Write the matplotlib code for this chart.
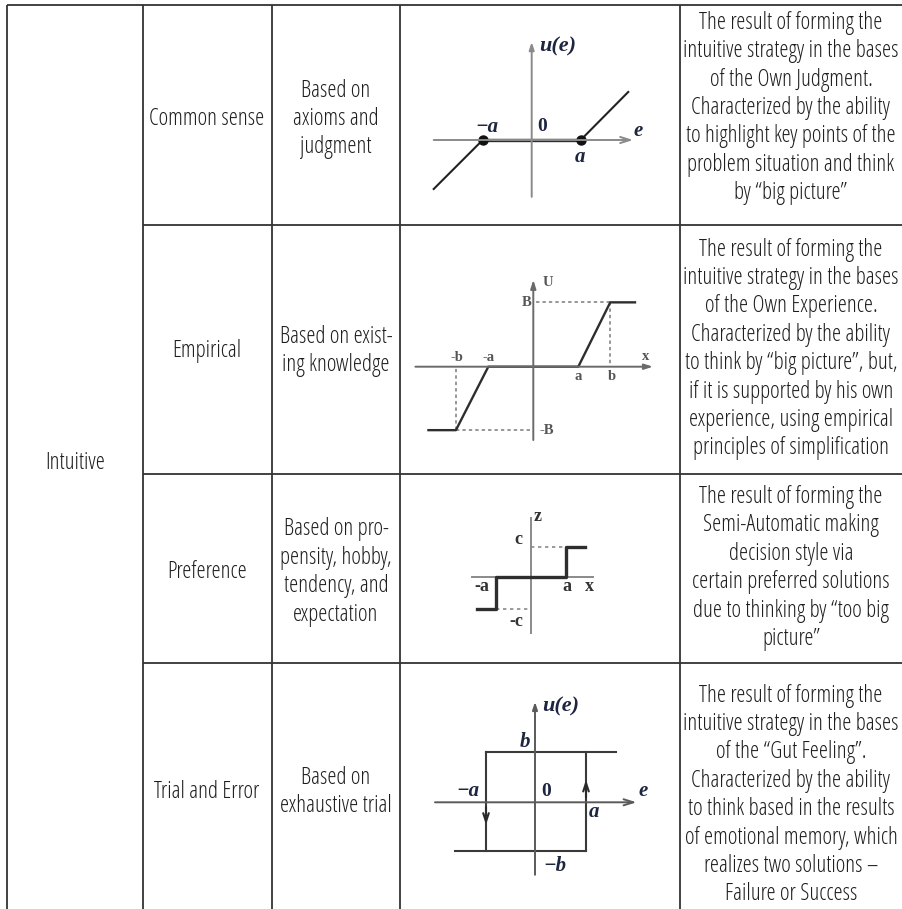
import matplotlib
matplotlib.use("Agg")
import matplotlib.pyplot as plt

W, H = 903, 909

# ---------------- table content ----------------
group_label = "Intuitive"
row_names = ["Common sense", "Empirical", "Preference", "Trial and Error"]
row_basis = ["Based on\naxioms and\njudgment",
             "Based on exist-\ning knowledge",
             "Based on pro-\npensity, hobby,\ntendency, and\nexpectation",
             "Based on\nexhaustive trial"]
descriptions = [
    "The result of forming the\nintuitive strategy in the bases\nof the Own Judgment.\n"
    "Characterized by the ability\nto highlight key points of the\nproblem situation and think\n"
    "by \u201cbig picture\u201d",
    "The result of forming the\nintuitive strategy in the bases\nof the Own Experience.\n"
    "Characterized by the ability\nto think by \u201cbig picture\u201d, but,\nif it is supported by his own\n"
    "experience, using empirical\nprinciples of simplification",
    "The result of forming the\nSemi-Automatic making\ndecision style via\ncertain preferred solutions\n"
    "due to thinking by \u201ctoo big\npicture\u201d",
    "The result of forming the\nintuitive strategy in the bases\nof the \u201cGut Feeling\u201d.\n"
    "Characterized by the ability\nto think based in the results\nof emotional memory, which\n"
    "realizes two solutions \u2013\nFailure or Success",
]

# ---------------- diagram data (units of a) ----------------
# 1: dead zone (Common sense)
d1_x = [-2.0, -1.0, 1.0, 1.97]
d1_y = [-1.0, 0.0, 0.0, 0.98]
d1_dots_x = [-1.0, 1.0]
d1_dots_y = [0.0, 0.0]
# 2: dead zone with saturation (Empirical)
d2_x = [-2.33, -1.72, -1.0, 1.0, 1.71, 2.26]
d2_y = [-1.41, -1.41, 0.0, 0.0, 1.43, 1.43]
d2_b, d2_nb, d2_B, d2_nB = 1.71, -1.72, 1.43, -1.41
# 3: relay with dead zone (Preference)
d3_x = [-1.54, -1.0, -1.0, 1.0, 1.0, 1.55]
d3_y = [-0.91, -0.91, 0.0, 0.0, 0.875, 0.875]
d3_c, d3_nc = 0.875, -0.91
# 4: relay with hysteresis (Trial and Error)
d4_top_x = [-0.98, 1.62]
d4_top_y = [1.01, 1.01]
d4_bot_x = [-1.6, 1.02]
d4_bot_y = [-0.97, -0.97]
d4_left_x = [-0.98, -0.98]
d4_left_y = [1.01, -0.97]
d4_right_x = [1.02, 1.02]
d4_right_y = [-0.97, 1.01]

# ---------------- layout ----------------
col_x = [7, 143, 272, 400, 680]
row_y = [5, 225, 474, 663]
name_cx, basis_cx, desc_cx, group_cx = 207, 336, 791, 75
mid_base = [125, 357, 578, 798]
desc_base = [114, 355, 574, 801]
group_base = 469
line_step = 28.4

TXT = dict(family="Open Sans", stretch="condensed", weight=300, fontsize=16.6, color="#1e1e1e")
LINE_C = "#333333"

fig = plt.figure(figsize=(W / 100, H / 100), dpi=100)
ax = fig.add_axes([0, 0, 1, 1])
ax.set_xlim(0, W)
ax.set_ylim(H, 0)
ax.axis("off")

# table rules
ax.plot([col_x[0], W], [row_y[0], row_y[0]], color=LINE_C, lw=1.3, solid_capstyle="butt")
for y in row_y[1:]:
    ax.plot([col_x[1], W], [y, y], color=LINE_C, lw=1.3, solid_capstyle="butt")
for x in col_x:
    ax.plot([x, x], [row_y[0], H], color=LINE_C, lw=1.3, solid_capstyle="butt")


def block(cx, base_center, text):
    lines = text.split("\n")
    n = len(lines)
    for i, ln in enumerate(lines):
        y = base_center + (i - (n - 1) / 2) * line_step
        ax.text(cx, y, ln, ha="center", va="baseline", **TXT)


block(group_cx, group_base, group_label)
for i in range(4):
    block(name_cx, mid_base[i], row_names[i])
    block(basis_cx, mid_base[i], row_basis[i])
    block(desc_cx, desc_base[i], descriptions[i])


def inset(ox, oy, s, xlim, ylim):
    l = ox + xlim[0] * s
    r = ox + xlim[1] * s
    t = oy - ylim[1] * s
    b = oy - ylim[0] * s
    a = fig.add_axes([l / W, (H - b) / H, (r - l) / W, (b - t) / H])
    a.set_xlim(*xlim)
    a.set_ylim(*ylim)
    a.axis("off")
    a.patch.set_alpha(0)
    return a


def arrow_axis(a, x0, y0, x1, y1, color, style):
    a.annotate("", xy=(x1, y1), xytext=(x0, y0),
               arrowprops=dict(arrowstyle=style, color=color, lw=1.4,
                               shrinkA=0, shrinkB=0), annotation_clip=False)


SERIF_BI = dict(family="Liberation Serif", weight="bold", style="italic", color="#1d2540")
SERIF_B = dict(family="Liberation Serif", weight="bold", color="#1d2540")

# ---- diagram 1 ----
a1 = inset(531.7, 140, 49, (-2.1, 2.2), (-1.25, 2.05))
arrow_axis(a1, -2.0, 0, 2.07, 0, "#8a8a8a", "->,head_length=0.7,head_width=0.22")
arrow_axis(a1, 0, -1.16, 0, 2.0, "#8a8a8a", "-|>,head_length=0.45,head_width=0.15")
a1.plot(d1_x, d1_y, color="#222222", lw=1.5, clip_on=False)
a1.plot(d1_x[1:3], d1_y[1:3], color="#2a2a2a", lw=2.4, clip_on=False)
a1.plot(d1_dots_x, d1_dots_y, "o", color="#111111", ms=6.5, clip_on=False)
a1.text(0.15, 1.9, "u(e)", ha="left", va="center", fontsize=16, **SERIF_BI)
a1.text(-0.91, 0.27, "\u2212a", ha="center", va="center", fontsize=15, **SERIF_BI)
a1.text(0.22, 0.27, "0", ha="center", va="center", fontsize=14, **SERIF_B)
a1.text(2.17, 0.18, "e", ha="center", va="center", fontsize=15, **SERIF_BI)
a1.text(0.985, -0.35, "a", ha="center", va="center", fontsize=15, **SERIF_BI)

# ---- diagram 2 ----
a2 = inset(533.3, 366.7, 45, (-2.7, 2.75), (-1.7, 2.0))
arrow_axis(a2, -2.62, 0, 2.66, 0, "#6a6a6a", "-|>,head_length=0.5,head_width=0.16")
arrow_axis(a2, 0, -1.63, 0, 1.93, "#6a6a6a", "-|>,head_length=0.5,head_width=0.16")
DASH = dict(color="#7a7a7a", lw=1.1, linestyle=(0, (2.2, 2.0)), clip_on=False)
a2.plot([d2_b, 0], [d2_B, d2_B], **DASH)
a2.plot([d2_b, d2_b], [d2_B, 0], **DASH)
a2.plot([d2_nb, 0], [d2_nB, d2_nB], **DASH)
a2.plot([d2_nb, d2_nb], [d2_nB, 0], **DASH)
a2.plot(d2_x, d2_y, color="#2e2e2e", lw=1.7, clip_on=False)
SM = dict(family="Liberation Serif", weight="bold", color="#555555", fontsize=10.5)
a2.text(0.2, 1.86, "U", ha="left", va="center", **SM)
a2.text(-0.05, d2_B, "B", ha="right", va="center", **SM)
a2.text(0.14, d2_nB, "-B", ha="left", va="center", **SM)
a2.text(2.5, 0.22, "x", ha="center", va="center", **SM)
a2.text(-1.7, 0.2, "-b", ha="center", va="center", **SM)
a2.text(-1.0, 0.2, "-a", ha="center", va="center", **SM)
a2.text(1.0, -0.22, "a", ha="center", va="center", **SM)
a2.text(1.75, -0.22, "b", ha="center", va="center", **SM)

# ---- diagram 3 ----
a3 = inset(530.7, 577.3, 35, (-1.8, 1.9), (-1.7, 1.85))
a3.plot([-1.69, 1.79], [0, 0], color="#8a8a8a", lw=1.4, clip_on=False)
a3.plot([0, 0], [-1.59, 1.69], color="#8a8a8a", lw=1.4, clip_on=False)
DOT = dict(color="#8a8a8a", lw=1.2, linestyle=(0, (2.0, 2.2)), clip_on=False)
a3.plot([0, 1.0], [d3_c, d3_c], **DOT)
a3.plot([-1.0, 0], [d3_nc, d3_nc], **DOT)
a3.plot(d3_x, d3_y, color="#2e2e2e", lw=2.4, clip_on=False)
SB3 = dict(family="Liberation Serif", weight="bold", color="#333333", fontsize=13)
a3.text(0.2, 1.73, "z", ha="center", va="center", **SB3)
a3.text(-0.36, 1.07, "c", ha="center", va="center", **SB3)
a3.text(-1.40, -0.27, "-a", ha="center", va="center", **SB3)
a3.text(1.03, -0.27, "a", ha="center", va="center", **SB3)
a3.text(1.69, -0.27, "x", ha="center", va="center", **SB3)
a3.text(-0.41, -1.27, "-c", ha="center", va="center", **SB3)

# ---- diagram 4 ----
a4 = inset(535, 802.3, 50, (-2.1, 2.2), (-1.5, 2.1))
arrow_axis(a4, -2.0, 0, 2.03, 0, "#5a5a5a", "->,head_length=0.7,head_width=0.22")
arrow_axis(a4, 0, -1.45, 0, 2.01, "#5a5a5a", "-|>,head_length=0.45,head_width=0.15")
LN4 = dict(color="#3a3a3a", lw=1.5, clip_on=False)
a4.plot(d4_top_x, d4_top_y, **LN4)
a4.plot(d4_bot_x, d4_bot_y, **LN4)
a4.plot(d4_left_x, d4_left_y, **LN4)
a4.plot(d4_right_x, d4_right_y, **LN4)
a4.annotate("", xy=(d4_left_x[0], -0.45), xytext=(d4_left_x[0], -0.1),
            arrowprops=dict(arrowstyle="->,head_length=0.6,head_width=0.2", color="#2a2a2a",
                            lw=1.5, shrinkA=0, shrinkB=0), annotation_clip=False)
a4.annotate("", xy=(d4_right_x[0], 0.45), xytext=(d4_right_x[0], 0.1),
            arrowprops=dict(arrowstyle="->,head_length=0.6,head_width=0.2", color="#2a2a2a",
                            lw=1.5, shrinkA=0, shrinkB=0), annotation_clip=False)
a4.text(0.14, 1.91, "u(e)", ha="left", va="center", fontsize=16, **SERIF_BI)
a4.text(-0.2, 1.2, "b", ha="center", va="center", fontsize=15, **SERIF_BI)
a4.text(-1.34, 0.22, "\u2212a", ha="center", va="center", fontsize=15, **SERIF_BI)
a4.text(0.22, 0.22, "0", ha="center", va="center", fontsize=14, **SERIF_B)
a4.text(1.18, -0.2, "a", ha="center", va="center", fontsize=15, **SERIF_BI)
a4.text(2.17, 0.22, "e", ha="center", va="center", fontsize=15, **SERIF_BI)
a4.text(0.4, -1.27, "\u2212b", ha="center", va="center", fontsize=15, **SERIF_BI)

fig.savefig("out.png", dpi=100)
